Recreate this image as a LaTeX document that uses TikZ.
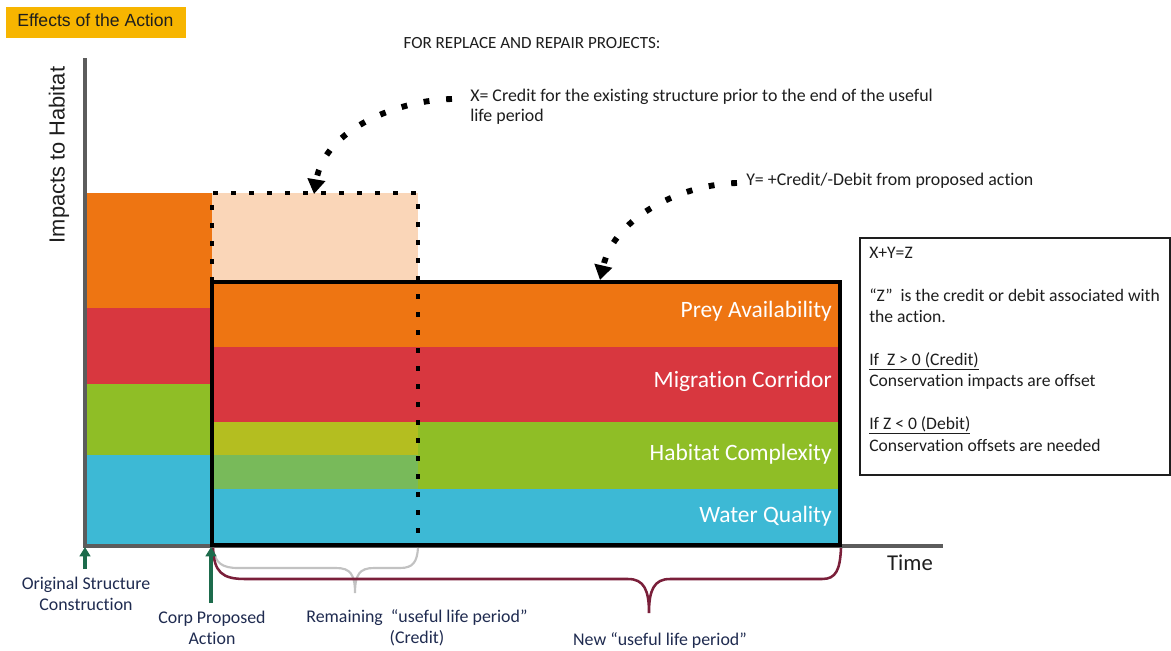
\documentclass[tikz,border=0pt]{standalone}
\usepackage{fontspec}
\setmainfont{Carlito}[RawFeature={-liga;-clig;-calt}]
\newfontfamily\arialf{Liberation Sans}
\usetikzlibrary{arrows.meta}
\definecolor{corange}{HTML}{EE7512}
\definecolor{cred}{HTML}{D8373F}
\definecolor{cgreen}{HTML}{8FBE26}
\definecolor{cyell}{HTML}{B4BE20}
\definecolor{cgreenb}{HTML}{78BA5A}
\definecolor{cblue}{HTML}{3DB9D5}
\definecolor{cpeach}{HTML}{FAD6B8}
\definecolor{ctitle}{HTML}{F7B500}
\definecolor{caxis}{HTML}{5C5C5C}
\definecolor{cgreenarrow}{HTML}{1D6B4C}
\definecolor{cnavy}{HTML}{1F2B50}
\definecolor{cbrace}{HTML}{7A1F3A}
\definecolor{cgraybrace}{HTML}{C2C2C2}
\definecolor{ctext}{HTML}{1E1E1E}
\begin{document}
\begin{tikzpicture}[x=0.75pt,y=-0.75pt,
  axisline/.style={caxis,line width=2.3pt},
  dotbox/.style={line width=3.6pt,dash pattern=on 3.6pt off 9.9pt},
  dotarrow/.style={line width=4.4pt,dash pattern=on 4.4pt off 12.6pt,
    -{Triangle[length=11pt,width=13pt]}},
  bandlabel/.style={text=white,font=\fontsize{17.6}{20}\selectfont,anchor=mid east,inner sep=0pt},
  infotext/.style={text=ctext,font=\fontsize{13.2}{15}\selectfont,anchor=mid west,inner sep=0pt},
  notetext/.style={text=ctext,font=\fontsize{13.4}{15}\selectfont,anchor=mid west,inner sep=0pt},
  bottomtext/.style={text=cnavy,font=\fontsize{13.4}{15.6}\selectfont,align=center,inner sep=0pt},
  greenarrow/.style={cgreenarrow,line width=2.6pt,-{Triangle[length=7pt,width=8pt]}}
]
\useasboundingbox (0,0) rectangle (1171,650);
\fill[white] (0,0) rectangle (1171,650);

% title
\node[fill=ctitle,anchor=north west,minimum width=135pt,minimum height=23.3pt,inner sep=0pt] (title) at (6,7) {};
\node[anchor=mid west,inner sep=0pt,font=\arialf\fontsize{13.2}{15}\selectfont,text=ctext] (titletext) at (17,23) {Effects of the Action};

\node[font=\fontsize{12.8}{14}\selectfont,text=ctext,inner sep=0pt,anchor=mid] (header) at (532,45) {FOR REPLACE AND REPAIR PROJECTS:};

% left stack
\fill[corange] (87,193) rectangle (212,308);
\fill[cred] (87,308) rectangle (212,384);
\fill[cgreen] (87,384) rectangle (212,455);
\fill[cblue] (87,455) rectangle (212,545);

% peach remaining area
\fill[cpeach] (212,193) rectangle (418,282);

% big box stripes
\fill[corange] (212,282) rectangle (840,347);
\fill[cred] (212,347) rectangle (840,422);
\fill[cgreen] (418,422) rectangle (840,489);
\fill[cyell] (212,422) rectangle (418,455);
\fill[cgreenb] (212,455) rectangle (418,489);
\fill[cblue] (212,489) rectangle (840,545);

% axes
\draw[axisline] (85,58) -- (85,546) -- (943,546);
\node[rotate=90,font=\arialf\fontsize{16.4}{18}\selectfont,text=ctext,inner sep=0pt] (ylabel) at (59,155) {Impacts to Habitat};
\node[font=\fontsize{17}{19}\selectfont,text=ctext,inner sep=0pt,anchor=mid] (xlabel) at (910,567) {Time};

% big box frame
\draw[line width=3pt] (212,282) rectangle (840,545);

% dotted outline
\draw[dotbox] (212,282) -- (212,193) -- (418,193) -- (418,545);

% band labels
\node[bandlabel] (prey) at (832,314) {Prey Availability};
\node[bandlabel] (migr) at (832,384) {Migration Corridor};
\node[bandlabel] (habc) at (832,457) {Habitat Complexity};
\node[bandlabel] (water) at (832,519) {Water Quality};

% notes
\node[notetext] (xnote) at (470,98) {X= Credit for the existing structure prior to the end of the useful};
\node[notetext] (xnote2) at (470,118) {life period};
\node[notetext] (ynote) at (746,182) {Y= +Credit/-Debit from proposed action};

\coordinate (xstart) at (452,99);
\coordinate (xend) at (314,194);
\coordinate (ystart) at (737,183);
\coordinate (yend) at (600,280);
\draw[dotarrow] (xstart) .. controls (400,100) and (325,128) .. (xend);
\draw[dotarrow] (ystart) .. controls (685,184) and (615,215) .. (yend);

% info box
\draw[line width=0.8pt,ctext] (860,238) rectangle (1170,475);
\node[infotext] (i1) at (869,255) {X+Y=Z};
\node[infotext] (i2) at (869,298) {“Z”\ \ is the credit or debit associated with};
\node[infotext] (i3) at (869,319) {the action.};
\node[infotext] (i4) at (869,362) {\underline{If\ \ Z > 0 (Credit)}};
\node[infotext] (i5) at (869,383) {Conservation impacts are offset};
\node[infotext] (i6) at (869,426) {\underline{If Z < 0 (Debit)}};
\node[infotext] (i7) at (869,448) {Conservation offsets are needed};

% braces
\coordinate (gb1) at (213,548);
\coordinate (gbtip) at (355,593);
\coordinate (gb2) at (418,548);
\draw[cgraybrace,line width=1.6pt] (gb1) .. controls (215,563) and (222,568) .. (238,568) -- (336,568)
  .. controls (350,568) and (355,574) .. (gbtip)
  .. controls (355,574) and (360,568) .. (374,568) -- (400,568)
  .. controls (413,568) and (417,562) .. (gb2);
\coordinate (rb1) at (213,548);
\coordinate (rbtip) at (649,613);
\coordinate (rb2) at (841,548);
\draw[cbrace,line width=1.9pt] (rb1) .. controls (214,572) and (222,579) .. (245,579) -- (628,579)
  .. controls (644,579) and (649,590) .. (rbtip)
  .. controls (649,590) and (654,579) .. (670,579) -- (822,579)
  .. controls (836,579) and (840,570) .. (rb2);

% green arrows
\node[bottomtext] (orig) at (86,594) {Original Structure\\Construction};
\node[bottomtext] (corp) at (212,628) {Corp Proposed\\Action};
\coordinate (origtip) at (85,547);
\coordinate (origtail) at (85,569);
\coordinate (corptip) at (211,547);
\coordinate (corptail) at (211,603);
\draw[greenarrow] (origtail) -- (origtip);
\draw[greenarrow] (corptail) -- (corptip);

\node[bottomtext] (remain) at (417,628) {Remaining\ \ “useful life period”\\(Credit)};
\node[bottomtext] (newlife) at (660,640) {New “useful life period”};
\end{tikzpicture}
\end{document}
